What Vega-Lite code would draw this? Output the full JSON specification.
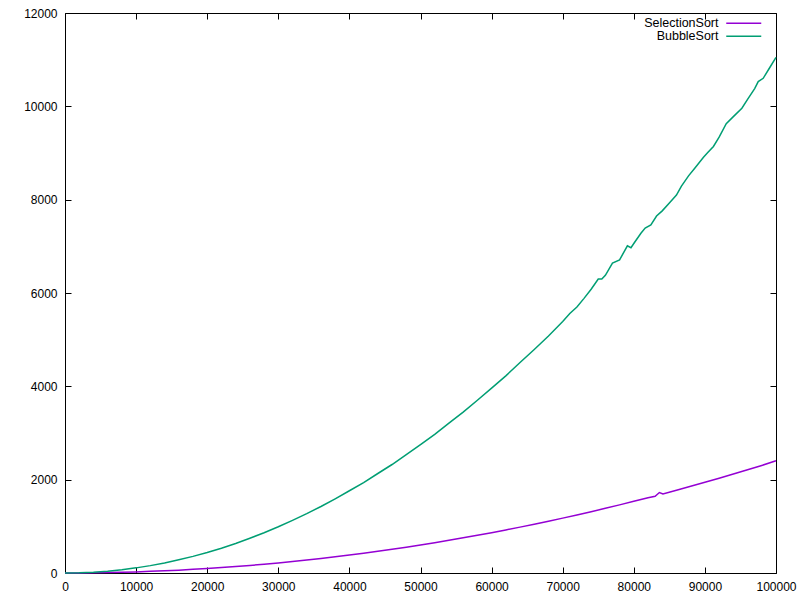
{
  "$schema": "https://vega.github.io/schema/vega-lite/v6.json",
  "width": 711,
  "height": 560,
  "autosize": {"type": "none"},
  "padding": {"left": 65, "top": 13, "right": 24, "bottom": 27},
  "background": "white",
  "config": {
    "view": {"stroke": "black", "strokeWidth": 1},
    "axis": {
      "domain": false,
      "grid": false,
      "tickColor": "black",
      "tickSize": -6,
      "tickWidth": 1,
      "labelFont": "Liberation Sans",
      "labelFontSize": 12,
      "labelColor": "black",
      "labelFlush": false,
      "labelOverlap": false
    }
  },
  "data": {
    "values": [
      {"n": 0, "time": 0, "algorithm": "SelectionSort"},
      {"n": 2000, "time": 1, "algorithm": "SelectionSort"},
      {"n": 4000, "time": 4, "algorithm": "SelectionSort"},
      {"n": 6000, "time": 9, "algorithm": "SelectionSort"},
      {"n": 8000, "time": 15, "algorithm": "SelectionSort"},
      {"n": 10000, "time": 24, "algorithm": "SelectionSort"},
      {"n": 12000, "time": 35, "algorithm": "SelectionSort"},
      {"n": 14000, "time": 47, "algorithm": "SelectionSort"},
      {"n": 16000, "time": 61, "algorithm": "SelectionSort"},
      {"n": 18000, "time": 78, "algorithm": "SelectionSort"},
      {"n": 20000, "time": 96, "algorithm": "SelectionSort"},
      {"n": 22000, "time": 116, "algorithm": "SelectionSort"},
      {"n": 24000, "time": 138, "algorithm": "SelectionSort"},
      {"n": 26000, "time": 162, "algorithm": "SelectionSort"},
      {"n": 28000, "time": 188, "algorithm": "SelectionSort"},
      {"n": 30000, "time": 216, "algorithm": "SelectionSort"},
      {"n": 32000, "time": 246, "algorithm": "SelectionSort"},
      {"n": 34000, "time": 277, "algorithm": "SelectionSort"},
      {"n": 36000, "time": 311, "algorithm": "SelectionSort"},
      {"n": 38000, "time": 347, "algorithm": "SelectionSort"},
      {"n": 40000, "time": 384, "algorithm": "SelectionSort"},
      {"n": 42000, "time": 423, "algorithm": "SelectionSort"},
      {"n": 44000, "time": 465, "algorithm": "SelectionSort"},
      {"n": 46000, "time": 508, "algorithm": "SelectionSort"},
      {"n": 48000, "time": 553, "algorithm": "SelectionSort"},
      {"n": 50000, "time": 600, "algorithm": "SelectionSort"},
      {"n": 52000, "time": 649, "algorithm": "SelectionSort"},
      {"n": 54000, "time": 700, "algorithm": "SelectionSort"},
      {"n": 56000, "time": 753, "algorithm": "SelectionSort"},
      {"n": 58000, "time": 807, "algorithm": "SelectionSort"},
      {"n": 60000, "time": 864, "algorithm": "SelectionSort"},
      {"n": 62000, "time": 923, "algorithm": "SelectionSort"},
      {"n": 64000, "time": 983, "algorithm": "SelectionSort"},
      {"n": 66000, "time": 1045, "algorithm": "SelectionSort"},
      {"n": 68000, "time": 1110, "algorithm": "SelectionSort"},
      {"n": 70000, "time": 1176, "algorithm": "SelectionSort"},
      {"n": 72000, "time": 1244, "algorithm": "SelectionSort"},
      {"n": 74000, "time": 1314, "algorithm": "SelectionSort"},
      {"n": 76000, "time": 1386, "algorithm": "SelectionSort"},
      {"n": 78000, "time": 1460, "algorithm": "SelectionSort"},
      {"n": 80000, "time": 1536, "algorithm": "SelectionSort"},
      {"n": 82000, "time": 1614, "algorithm": "SelectionSort"},
      {"n": 83000, "time": 1645, "algorithm": "SelectionSort"},
      {"n": 83600, "time": 1725, "algorithm": "SelectionSort"},
      {"n": 84100, "time": 1695, "algorithm": "SelectionSort"},
      {"n": 86000, "time": 1775, "algorithm": "SelectionSort"},
      {"n": 88000, "time": 1860, "algorithm": "SelectionSort"},
      {"n": 90000, "time": 1944, "algorithm": "SelectionSort"},
      {"n": 92000, "time": 2031, "algorithm": "SelectionSort"},
      {"n": 94000, "time": 2121, "algorithm": "SelectionSort"},
      {"n": 96000, "time": 2212, "algorithm": "SelectionSort"},
      {"n": 98000, "time": 2305, "algorithm": "SelectionSort"},
      {"n": 100000, "time": 2405, "algorithm": "SelectionSort"},
      {"n": 0, "time": 0, "algorithm": "BubbleSort"},
      {"n": 2000, "time": 5, "algorithm": "BubbleSort"},
      {"n": 4000, "time": 18, "algorithm": "BubbleSort"},
      {"n": 6000, "time": 40, "algorithm": "BubbleSort"},
      {"n": 8000, "time": 70, "algorithm": "BubbleSort"},
      {"n": 10000, "time": 110, "algorithm": "BubbleSort"},
      {"n": 12000, "time": 158, "algorithm": "BubbleSort"},
      {"n": 14000, "time": 215, "algorithm": "BubbleSort"},
      {"n": 16000, "time": 282, "algorithm": "BubbleSort"},
      {"n": 18000, "time": 356, "algorithm": "BubbleSort"},
      {"n": 20000, "time": 440, "algorithm": "BubbleSort"},
      {"n": 22000, "time": 532, "algorithm": "BubbleSort"},
      {"n": 24000, "time": 633, "algorithm": "BubbleSort"},
      {"n": 26000, "time": 744, "algorithm": "BubbleSort"},
      {"n": 28000, "time": 862, "algorithm": "BubbleSort"},
      {"n": 30000, "time": 990, "algorithm": "BubbleSort"},
      {"n": 32000, "time": 1128, "algorithm": "BubbleSort"},
      {"n": 34000, "time": 1272, "algorithm": "BubbleSort"},
      {"n": 36000, "time": 1425, "algorithm": "BubbleSort"},
      {"n": 38000, "time": 1590, "algorithm": "BubbleSort"},
      {"n": 40000, "time": 1762, "algorithm": "BubbleSort"},
      {"n": 42000, "time": 1938, "algorithm": "BubbleSort"},
      {"n": 44000, "time": 2132, "algorithm": "BubbleSort"},
      {"n": 46000, "time": 2325, "algorithm": "BubbleSort"},
      {"n": 48000, "time": 2536, "algorithm": "BubbleSort"},
      {"n": 50000, "time": 2752, "algorithm": "BubbleSort"},
      {"n": 52000, "time": 2970, "algorithm": "BubbleSort"},
      {"n": 54000, "time": 3210, "algorithm": "BubbleSort"},
      {"n": 56000, "time": 3448, "algorithm": "BubbleSort"},
      {"n": 58000, "time": 3702, "algorithm": "BubbleSort"},
      {"n": 60000, "time": 3962, "algorithm": "BubbleSort"},
      {"n": 62000, "time": 4225, "algorithm": "BubbleSort"},
      {"n": 64000, "time": 4510, "algorithm": "BubbleSort"},
      {"n": 66000, "time": 4790, "algorithm": "BubbleSort"},
      {"n": 68000, "time": 5080, "algorithm": "BubbleSort"},
      {"n": 70000, "time": 5388, "algorithm": "BubbleSort"},
      {"n": 71000, "time": 5560, "algorithm": "BubbleSort"},
      {"n": 72000, "time": 5700, "algorithm": "BubbleSort"},
      {"n": 73000, "time": 5885, "algorithm": "BubbleSort"},
      {"n": 74000, "time": 6080, "algorithm": "BubbleSort"},
      {"n": 75000, "time": 6300, "algorithm": "BubbleSort"},
      {"n": 75500, "time": 6300, "algorithm": "BubbleSort"},
      {"n": 76000, "time": 6380, "algorithm": "BubbleSort"},
      {"n": 77000, "time": 6640, "algorithm": "BubbleSort"},
      {"n": 78000, "time": 6710, "algorithm": "BubbleSort"},
      {"n": 79100, "time": 7010, "algorithm": "BubbleSort"},
      {"n": 79600, "time": 6970, "algorithm": "BubbleSort"},
      {"n": 80000, "time": 7060, "algorithm": "BubbleSort"},
      {"n": 81000, "time": 7280, "algorithm": "BubbleSort"},
      {"n": 81600, "time": 7390, "algorithm": "BubbleSort"},
      {"n": 82400, "time": 7460, "algorithm": "BubbleSort"},
      {"n": 83200, "time": 7650, "algorithm": "BubbleSort"},
      {"n": 84000, "time": 7760, "algorithm": "BubbleSort"},
      {"n": 85000, "time": 7930, "algorithm": "BubbleSort"},
      {"n": 86000, "time": 8100, "algorithm": "BubbleSort"},
      {"n": 86700, "time": 8290, "algorithm": "BubbleSort"},
      {"n": 87700, "time": 8510, "algorithm": "BubbleSort"},
      {"n": 88600, "time": 8680, "algorithm": "BubbleSort"},
      {"n": 89800, "time": 8910, "algorithm": "BubbleSort"},
      {"n": 90400, "time": 9010, "algorithm": "BubbleSort"},
      {"n": 91200, "time": 9140, "algorithm": "BubbleSort"},
      {"n": 92000, "time": 9340, "algorithm": "BubbleSort"},
      {"n": 93000, "time": 9630, "algorithm": "BubbleSort"},
      {"n": 94000, "time": 9780, "algorithm": "BubbleSort"},
      {"n": 95200, "time": 9960, "algorithm": "BubbleSort"},
      {"n": 96000, "time": 10150, "algorithm": "BubbleSort"},
      {"n": 97000, "time": 10380, "algorithm": "BubbleSort"},
      {"n": 97500, "time": 10530, "algorithm": "BubbleSort"},
      {"n": 98200, "time": 10600, "algorithm": "BubbleSort"},
      {"n": 99000, "time": 10800, "algorithm": "BubbleSort"},
      {"n": 100000, "time": 11050, "algorithm": "BubbleSort"}
    ]
  },
  "layer": [
    {
      "mark": {"type": "line", "strokeWidth": 1.5},
      "encoding": {
        "x": {
          "field": "n", "type": "quantitative", "title": null,
          "scale": {"domain": [0, 100000], "nice": false},
          "axis": {"orient": "bottom", "values": [0, 10000, 20000, 30000, 40000, 50000, 60000, 70000, 80000, 90000, 100000], "format": "d", "labelPadding": 14}
        },
        "y": {
          "field": "time", "type": "quantitative", "title": null,
          "scale": {"domain": [0, 12000], "nice": false},
          "axis": {"orient": "left", "values": [0, 2000, 4000, 6000, 8000, 10000, 12000], "format": "d", "labelPadding": 14}
        },
        "color": {
          "field": "algorithm", "type": "nominal",
          "scale": {"domain": ["SelectionSort", "BubbleSort"], "range": ["#9400d3", "#009e73"]},
          "legend": {
            "orient": "none", "legendX": 672.5, "legendY": 4, "title": null,
            "padding": 0, "rowPadding": 0,
            "symbolType": "M-5,0H5", "symbolSize": 49, "symbolStrokeWidth": 1.5,
            "symbolFillColor": "transparent",
            "labelAlign": "right", "labelOffset": -31.5,
            "labelFont": "Liberation Sans", "labelFontSize": 12.5, "labelColor": "black"
          }
        }
      }
    },
    {
      "mark": {"type": "line", "opacity": 0},
      "encoding": {
        "x": {"field": "n", "type": "quantitative", "title": null,
          "axis": {"orient": "top", "labels": false, "values": [0, 10000, 20000, 30000, 40000, 50000, 60000, 70000, 80000, 90000, 100000]}},
        "y": {"field": "time", "type": "quantitative", "title": null,
          "axis": {"orient": "right", "labels": false, "values": [0, 2000, 4000, 6000, 8000, 10000, 12000]}},
        "detail": {"field": "algorithm"}
      }
    }
  ],
  "resolve": {"axis": {"x": "independent", "y": "independent"}}
}
